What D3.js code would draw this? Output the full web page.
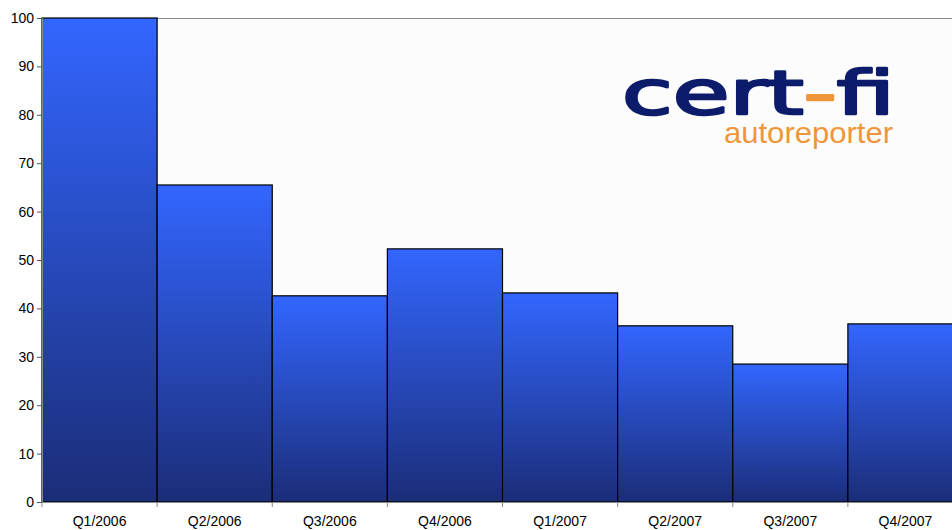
<!DOCTYPE html>
<html>
<head>
<meta charset="utf-8">
<script src="https://cdn.jsdelivr.net/npm/d3@7"></script>
<style>
  body { margin: 0; background: #ffffff; }
  svg { display: block; }
</style>
</head>
<body>
<div id="chart"></div>
<script>
var categories = ["Q1/2006", "Q2/2006", "Q3/2006", "Q4/2006", "Q1/2007", "Q2/2007", "Q3/2007", "Q4/2007"];
var values = [100, 65.5, 42.6, 52.3, 43.2, 36.4, 28.5, 36.8];
var yTicks = [0, 10, 20, 30, 40, 50, 60, 70, 80, 90, 100];

var width = 952, height = 530;
var margin = { top: 18, left: 42, bottom: 28 };
var plotRight = 963;

var svg = d3.select("#chart").append("svg")
    .attr("width", width)
    .attr("height", height);

var defs = svg.append("defs");
var grad = defs.append("linearGradient")
    .attr("id", "barGrad")
    .attr("x1", 0).attr("y1", 0).attr("x2", 0).attr("y2", 1);
grad.append("stop").attr("offset", "0%").attr("stop-color", "#3366ff");
grad.append("stop").attr("offset", "100%").attr("stop-color", "#1b2d78");

var x = d3.scaleBand()
    .domain(categories)
    .range([margin.left, plotRight])
    .paddingInner(0).paddingOuter(0);

var y = d3.scaleLinear()
    .domain([0, 100])
    .range([height - margin.bottom, margin.top]);

// plot background
svg.append("rect")
    .attr("x", margin.left).attr("y", margin.top)
    .attr("width", plotRight - margin.left)
    .attr("height", y(0) - margin.top)
    .attr("fill", "#fcfcfc");
svg.append("line")
    .attr("x1", margin.left).attr("x2", plotRight)
    .attr("y1", margin.top + 0.5).attr("y2", margin.top + 0.5)
    .attr("stroke", "#888");

// logo
var logo = svg.append("g");
var ct = logo.append("text")
    .attr("x", 622).attr("y", 114)
    .attr("font-family", "DejaVu Sans")
    .attr("font-size", 60)
    .attr("fill", "#0c1c6b")
    .attr("stroke", "#0c1c6b")
    .attr("stroke-width", 2.5)
    .attr("stroke-linejoin", "round")
    .attr("textLength", 273)
    .attr("lengthAdjust", "spacingAndGlyphs");
ct.append("tspan").text("cert");
ct.append("tspan").attr("fill", "#f0963a").attr("stroke", "#f0963a").text("-");
ct.append("tspan").text("fi");
logo.append("text")
    .attr("x", 724).attr("y", 143)
    .attr("font-family", "Liberation Sans, Arial, sans-serif")
    .attr("font-size", 30)
    .attr("fill", "#f0963a")
    .attr("textLength", 169)
    .attr("lengthAdjust", "spacingAndGlyphs")
    .text("autoreporter");

// bars
svg.selectAll(".bar").data(values).enter().append("rect")
    .attr("class", "bar")
    .attr("x", function(d, i) { return x(categories[i]); })
    .attr("y", function(d) { return y(d); })
    .attr("width", x.bandwidth())
    .attr("height", function(d) { return y(0) - y(d); })
    .attr("fill", "url(#barGrad)")
    .attr("stroke", "#000")
    .attr("stroke-width", 1.2);

// y axis
var yAxis = d3.axisLeft(y).tickValues(yTicks).tickSize(5).tickPadding(3);
var gy = svg.append("g")
    .attr("transform", "translate(" + margin.left + ",0)")
    .call(yAxis);
gy.select(".domain").attr("stroke", "#888");
gy.selectAll(".tick line").attr("stroke", "#555");
gy.selectAll("text")
    .attr("font-family", "Liberation Sans, Arial, sans-serif")
    .attr("font-size", 14)
    .attr("fill", "#000");

// x axis
var xAxis = d3.axisBottom(x).tickSize(0).tickPadding(14);
var gx = svg.append("g")
    .attr("transform", "translate(0," + y(0) + ")")
    .call(xAxis);
gx.select(".domain").attr("stroke", "#888");
gx.selectAll("text")
    .attr("font-family", "Liberation Sans, Arial, sans-serif")
    .attr("font-size", 14)
    .attr("fill", "#000");
gx.selectAll(".sep").data(categories).enter().append("line")
    .attr("class", "sep")
    .attr("x1", function(d) { return x(d); })
    .attr("x2", function(d) { return x(d); })
    .attr("y1", 0).attr("y2", 5)
    .attr("stroke", "#888");
</script>
</body>
</html>
